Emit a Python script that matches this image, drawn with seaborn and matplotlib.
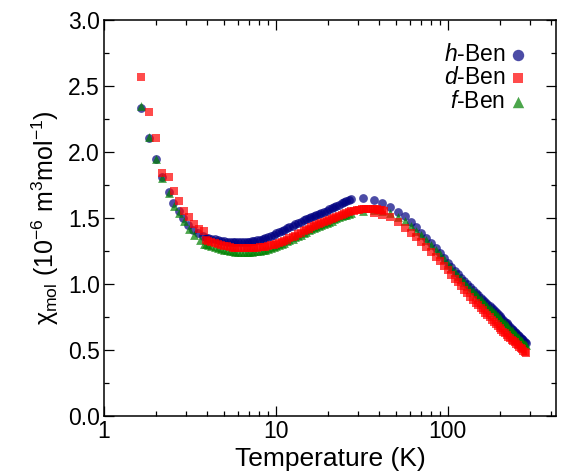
import matplotlib
matplotlib.use('Agg')
import matplotlib.pyplot as plt
import pandas as pd
import seaborn as sns
from matplotlib.ticker import MultipleLocator, LogLocator, NullFormatter, FixedLocator, FixedFormatter

# low temperature points (sparse)
t_low_h = [1.64, 1.82, 2.0, 2.17, 2.38, 2.53, 2.72, 2.89, 3.09, 3.30, 3.54, 3.78]
chi_low_h = [2.335, 2.108, 1.947, 1.808, 1.70, 1.61, 1.553, 1.50, 1.447, 1.409, 1.384, 1.362]
t_low_d = [1.64, 1.82, 2.0, 2.17, 2.38, 2.55, 2.73, 2.92, 3.12, 3.33, 3.58, 3.83]
chi_low_d = [2.566, 2.305, 2.108, 1.839, 1.813, 1.707, 1.626, 1.555, 1.505, 1.455, 1.42, 1.404]
t_low_f = [1.64, 1.82, 2.0, 2.17, 2.38, 2.55, 2.75, 2.94, 3.14, 3.36, 3.6, 3.84]
chi_low_f = [2.35, 2.115, 1.95, 1.80, 1.69, 1.59, 1.535, 1.477, 1.42, 1.371, 1.333, 1.303]

# dense region 3.9 - 27.5 K
t_mid = [3.9, 4.05, 4.2, 4.4, 4.6, 4.8, 5.0, 5.2, 5.4, 5.6, 5.8, 6.0, 6.25, 6.5, 6.75,
         7.0, 7.25, 7.5, 7.8, 8.1, 8.4, 8.7, 9.0, 9.35, 9.7, 10.0, 10.4, 10.8, 11.2, 11.6,
         12.0, 12.5, 13.0, 13.5, 14.0, 14.5, 15.0, 15.5, 16.0, 16.6, 17.2, 17.8, 18.4, 19.0,
         19.7, 20.4, 21.1, 21.8, 22.5, 23.3, 24.1, 24.9, 25.7, 26.6, 27.5]
chi_mid_h = [1.352, 1.348, 1.344, 1.339, 1.333, 1.329, 1.325, 1.322, 1.320, 1.318, 1.317, 1.316,
             1.315, 1.315, 1.317, 1.320, 1.324, 1.328, 1.332, 1.337, 1.341, 1.347, 1.355, 1.364,
             1.375, 1.385, 1.394, 1.403, 1.412, 1.421, 1.430, 1.441, 1.452, 1.463, 1.473, 1.483,
             1.492, 1.501, 1.510, 1.518, 1.526, 1.533, 1.540, 1.548, 1.556, 1.565, 1.574, 1.582,
             1.591, 1.600, 1.611, 1.620, 1.628, 1.637, 1.645]
chi_mid_d = [1.335, 1.327, 1.320, 1.313, 1.306, 1.298, 1.290, 1.285, 1.280, 1.276, 1.274, 1.272,
             1.271, 1.270, 1.270, 1.270, 1.271, 1.272, 1.274, 1.277, 1.279, 1.282, 1.286, 1.292,
             1.299, 1.305, 1.313, 1.321, 1.329, 1.337, 1.345, 1.356, 1.367, 1.378, 1.388, 1.399,
             1.410, 1.420, 1.430, 1.438, 1.446, 1.453, 1.460, 1.467, 1.475, 1.484, 1.493, 1.502,
             1.510, 1.518, 1.526, 1.532, 1.538, 1.544, 1.550]
chi_mid_f = [1.300, 1.293, 1.286, 1.279, 1.272, 1.265, 1.259, 1.255, 1.251, 1.248, 1.246, 1.245,
             1.244, 1.244, 1.244, 1.245, 1.246, 1.248, 1.250, 1.253, 1.256, 1.260, 1.265, 1.271,
             1.278, 1.285, 1.295, 1.305, 1.314, 1.323, 1.332, 1.343, 1.354, 1.365, 1.375, 1.386,
             1.397, 1.407, 1.417, 1.425, 1.433, 1.440, 1.447, 1.454, 1.462, 1.471, 1.480, 1.489,
             1.497, 1.505, 1.513, 1.519, 1.525, 1.531, 1.537]

# d-Ben keeps a dense band through the maximum
t_peak_d = [28.5, 29.5, 30.5, 31.5, 32.5, 33.5, 34.5, 35.5, 36.5, 37.5, 38.5, 39.5, 40.5, 41.5, 42.5]
chi_peak_d = [1.554, 1.559, 1.563, 1.567, 1.570, 1.572, 1.572, 1.571, 1.570, 1.568, 1.566, 1.563,
              1.561, 1.558, 1.555]

# 5 K steps above the maximum
t_step_h = [32, 37, 41.5, 46, 51, 56, 61, 65.5, 70, 75, 80]
chi_step_h = [1.649, 1.636, 1.616, 1.581, 1.548, 1.513, 1.470, 1.430, 1.390, 1.352, 1.310]
chi_step_f = [1.555, 1.558, 1.552, 1.540, 1.510, 1.475, 1.440, 1.405, 1.372, 1.335, 1.297]
t_step_d = [37, 41.5, 46, 51, 56, 61, 65.5, 70, 75, 80]
chi_step_d = [1.535, 1.525, 1.510, 1.470, 1.425, 1.390, 1.355, 1.320, 1.283, 1.246]

t_high = [85, 90, 95, 100, 105, 110, 115, 120, 125, 130, 135, 140, 145, 150, 155, 160, 165,
          170, 175, 180, 185, 190, 195, 200, 205, 210, 215, 220, 225, 230, 235, 240, 245,
          250, 255, 260, 265, 270, 275, 280, 285]
chi_high_h = [1.270, 1.235, 1.197, 1.160, 1.130, 1.101, 1.074, 1.048, 1.023, 0.999, 0.976,
              0.955, 0.935, 0.916, 0.897, 0.880, 0.863, 0.847, 0.831, 0.815, 0.800, 0.785,
              0.770, 0.755, 0.741, 0.727, 0.714, 0.701, 0.688, 0.675, 0.663, 0.651, 0.640,
              0.628, 0.617, 0.605, 0.594, 0.584, 0.573, 0.563, 0.553]
chi_high_f = [1.260, 1.224, 1.187, 1.150, 1.120, 1.091, 1.063, 1.037, 1.012, 0.988, 0.965,
              0.944, 0.924, 0.904, 0.885, 0.867, 0.850, 0.834, 0.817, 0.801, 0.786, 0.771,
              0.756, 0.741, 0.727, 0.713, 0.701, 0.686, 0.673, 0.660, 0.648, 0.636, 0.624,
              0.612, 0.601, 0.589, 0.578, 0.567, 0.556, 0.546, 0.535]
chi_high_d = [1.208, 1.175, 1.140, 1.106, 1.072, 1.041, 1.012, 0.984, 0.957, 0.930, 0.904,
              0.881, 0.859, 0.838, 0.818, 0.800, 0.782, 0.765, 0.748, 0.731, 0.715, 0.699,
              0.683, 0.668, 0.653, 0.639, 0.626, 0.614, 0.601, 0.589, 0.578, 0.567, 0.557,
              0.546, 0.536, 0.525, 0.515, 0.506, 0.496, 0.486, 0.476]

labels = ['$h$-Ben', '$d$-Ben', '$f$-Ben']
colors = ['navy', 'red', 'green']
markers = ['o', 's', '^']

sns.set_style('ticks')
plt.rcParams['font.family'] = ['Liberation Sans', 'DejaVu Sans']
plt.rcParams['mathtext.fontset'] = 'custom'
plt.rcParams['mathtext.rm'] = 'Liberation Sans'
plt.rcParams['mathtext.it'] = 'Liberation Sans:italic'
for k in ['text.color', 'axes.labelcolor', 'axes.edgecolor', 'xtick.color', 'ytick.color']:
    plt.rcParams[k] = 'black'

df_h = pd.DataFrame({'T': t_low_h + t_mid + t_step_h + t_high,
                     'chi': chi_low_h + chi_mid_h + chi_step_h + chi_high_h})
df_d = pd.DataFrame({'T': t_low_d + t_mid + t_peak_d + t_step_d + t_high,
                     'chi': chi_low_d + chi_mid_d + chi_peak_d + chi_step_d + chi_high_d})
df_f = pd.DataFrame({'T': t_low_f + t_mid + t_step_h + t_high,
                     'chi': chi_low_f + chi_mid_f + chi_step_f + chi_high_f})

fig = plt.figure(figsize=(5.62, 4.76), dpi=100)
ax = fig.add_axes([0.185, 0.126, 0.804, 0.832])

# draw order: h, f, d (d on top of f)
for df, i in [(df_h, 0), (df_f, 2), (df_d, 1)]:
    sns.scatterplot(data=df, x='T', y='chi', ax=ax, color=colors[i], marker=markers[i],
                    s=40 if i != 1 else 34, alpha=0.7, linewidth=0, label=labels[i])

ax.set_xscale('log')
ax.set_xlim(1, 425)
ax.set_ylim(0, 3.0)
ax.xaxis.set_major_locator(FixedLocator([1, 10, 100]))
ax.xaxis.set_major_formatter(FixedFormatter(['1', '10', '100']))
ax.xaxis.set_minor_locator(LogLocator(base=10, subs=[2, 3, 4, 5, 6, 7, 8, 9], numticks=20))
ax.xaxis.set_minor_formatter(NullFormatter())
ax.yaxis.set_major_locator(MultipleLocator(0.5))
ax.yaxis.set_minor_locator(MultipleLocator(0.25))
ax.yaxis.set_major_formatter(plt.FuncFormatter(lambda v, p: f'{v:.1f}'))

ax.tick_params(which='both', direction='in', top=True, right=True, width=0.9, labelsize=16.5, pad=3)
ax.tick_params(which='major', length=7)
ax.tick_params(which='minor', length=3.5)
for sp in ax.spines.values():
    sp.set_linewidth(1.1)

ax.set_xlabel('Temperature (K)', fontsize=19, labelpad=3)
ax.set_ylabel('χ$_{\\rm mol}$ (10$^{-6}$ m$^3$mol$^{-1}$)', fontsize=18, labelpad=5)

handles, labs = ax.get_legend_handles_labels()
order = [labs.index(l) for l in labels]
leg = ax.legend([handles[k] for k in order], [labs[k] for k in order], loc='upper right',
                bbox_to_anchor=(0.955, 0.965), frameon=False, markerfirst=False, fontsize=16.5,
                handlelength=0.7, handletextpad=0.2, labelspacing=0.02, borderaxespad=0,
                markerscale=1.3)

fig.savefig('out.png', dpi=100)
